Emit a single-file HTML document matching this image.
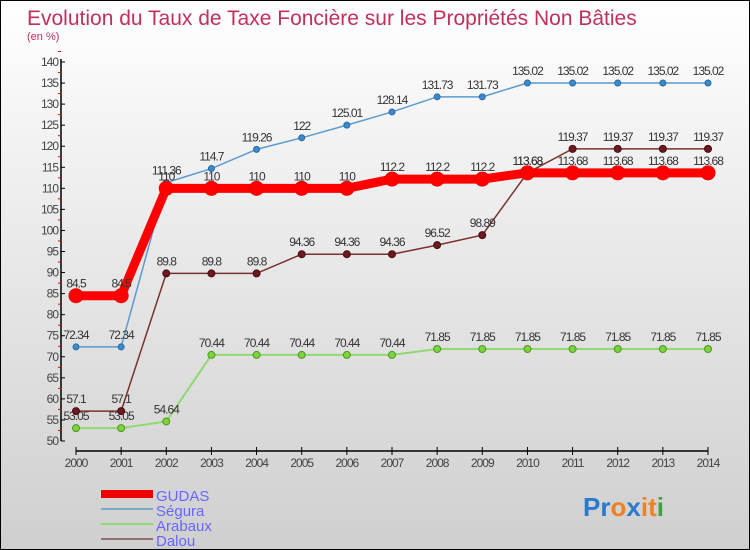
<!DOCTYPE html>
<html><head><meta charset="utf-8"><style>
body{margin:0;}
#c{width:750px;height:550px;position:relative;box-sizing:border-box;border:1px solid #000;background:linear-gradient(#fff 0%,#f0f0f0 30%,#cfcfcf 100%);font-family:"Liberation Sans",sans-serif;overflow:hidden}
</style></head><body>
<div id="c">
<svg id="s" width="750" height="550" style="position:absolute;left:0;top:0">
<text x="26" y="24" font-size="21" fill="#c0305a">Evolution du Taux de Taxe Foncière sur les Propriétés Non Bâties</text>
<text x="26" y="39" font-size="11" fill="#c0305a">(en %)</text>
<g id="ax"></g><g id="series"></g>
<g>
<rect x="100" y="489" width="52" height="8" fill="#e00"/>
<text x="155" y="500" font-size="15" fill="#6666ff">GUDAS</text>
<rect x="100" y="507" width="52" height="2" fill="#7aa6c8"/>
<text x="155" y="515" font-size="15" fill="#6666ff">Ségura</text>
<rect x="100" y="522" width="52" height="2" fill="#90d870"/>
<text x="155" y="530" font-size="15" fill="#6666ff">Arabaux</text>
<rect x="100" y="537" width="52" height="2" fill="#907070"/>
<text x="155" y="545" font-size="15" fill="#6666ff">Dalou</text>
</g>
<text x="582" y="515" font-size="26" font-weight="bold"><tspan fill="#2a7ad0">Pr</tspan><tspan fill="#f08020">o</tspan><tspan fill="#2a7ad0">x</tspan><tspan fill="#f08020">i</tspan><tspan fill="#f08020">t</tspan><tspan fill="#40a040">i</tspan></text>
</svg>
</div>
<script>
const years=[2000,2001,2002,2003,2004,2005,2006,2007,2008,2009,2010,2011,2012,2013,2014];
const yTicks=[50,55,60,65,70,75,80,85,90,95,100,105,110,115,120,125,130,135,140];
const gudas=[84.5,84.5,110,110,110,110,110,112.2,112.2,112.2,113.68,113.68,113.68,113.68,113.68];
const segura=[72.34,72.34,111.36,114.7,119.26,122,125.01,128.14,131.73,131.73,135.02,135.02,135.02,135.02,135.02];
const arabaux=[53.05,53.05,54.64,70.44,70.44,70.44,70.44,70.44,71.85,71.85,71.85,71.85,71.85,71.85,71.85];
const dalou=[57.1,57.1,89.8,89.8,89.8,94.36,94.36,94.36,96.52,98.89,113.68,119.37,119.37,119.37,119.37];
const NS="http://www.w3.org/2000/svg";
const X=i=>75+i*(707-75)/14;
const Y=v=>440-(v-50)*(440-61)/90;
function mk(t,a,p){const e=document.createElementNS(NS,t);for(const k in a)e.setAttribute(k,a[k]);p.appendChild(e);return e;}
const ax=document.getElementById('ax');
let yl=mk('line',{x1:60,y1:58,x2:60,y2:440,stroke:'#000','stroke-width':1.5},ax);


let xl=mk('line',{x1:75,y1:450,x2:707,y2:450,stroke:'#000','stroke-width':1.5},ax);


yTicks.forEach(v=>{
 mk('line',{x1:60,y1:Y(v),x2:64,y2:Y(v),stroke:'#000'},ax);
 mk('line',{x1:57,y1:Y(v+2.5),x2:60,y2:Y(v+2.5),stroke:'#e00'},ax);
 const t=mk('text',{x:57,y:Y(v)+4,'font-size':12,'text-anchor':'end',fill:'#444','letter-spacing':'-1'},ax);
 t.textContent=v;
 
 
});
years.forEach((yr,i)=>{
 mk('line',{x1:X(i),y1:446,x2:X(i),y2:454,stroke:'#000'},ax);
 const t=mk('text',{x:X(i),y:466,'font-size':12,'text-anchor':'middle',fill:'#444','letter-spacing':'-1'},ax);
 t.textContent=yr;
 
 
});
const sg=document.getElementById('series');
function draw(name,data,color,lw,r,fill,stroke){
 const g=mk('g',{},sg);
 
 
 const pl=mk('polyline',{points:data.map((v,i)=>X(i)+','+Y(v)).join(' '),fill:'none',stroke:color,'stroke-width':lw},g);
 
 
 data.forEach((v,i)=>{
  const c=mk('circle',{cx:X(i),cy:Y(v),r:r,fill:fill,stroke:stroke,'stroke-width':1},g);
  
  
  const t=mk('text',{x:X(i),y:Y(v)-8,'font-size':12,'text-anchor':'middle',fill:'#333','letter-spacing':'-1'},g);
  t.textContent=v;
  
  
 });
}
draw('arabaux',arabaux,'#90d870',2,3.5,'#80d040','#4a9a20');
draw('dalou',dalou,'#7a3030',1.5,3.5,'#6a1a20','#4a0a10');
draw('segura',segura,'#5a9ad0',1.5,3,'#3a8ad0','#2a6aa0');
draw('gudas',gudas,'#f00',9,7,'#f00','#e00');
</script>
</body></html>
